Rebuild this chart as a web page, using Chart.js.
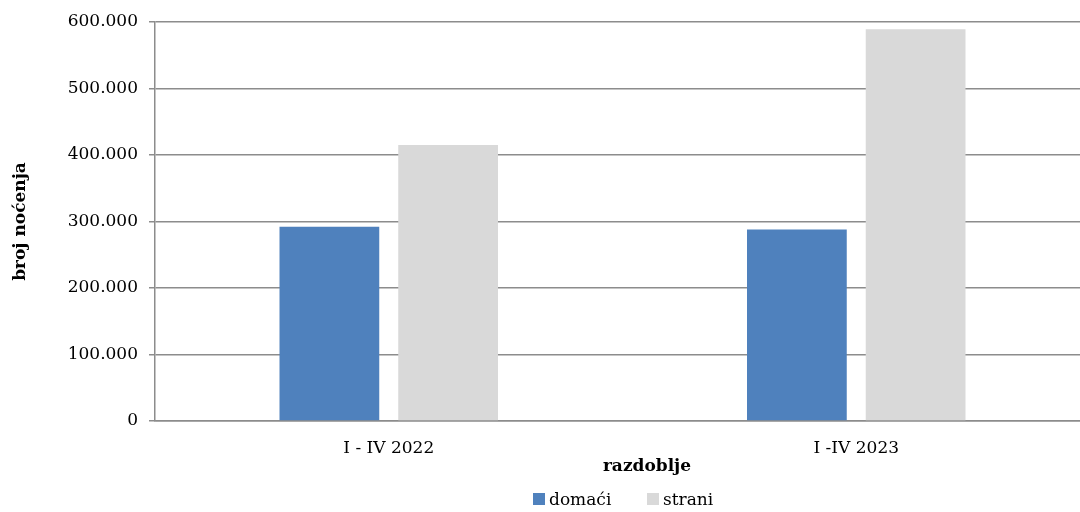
<!DOCTYPE html>
<html>
<head>
<meta charset="utf-8">
<script src="https://cdn.jsdelivr.net/npm/chart.js@4.4.0/dist/chart.umd.min.js"></script>
<style>
  html, body { margin: 0; padding: 0; background: #fff; overflow: hidden; }
  #wrap { position: relative; width: 1092px; height: 512px; }
  canvas { position: absolute; left: 0; top: 0; }
  .xt { position: absolute; font-family: "DejaVu Serif", serif; font-weight: bold; font-size: 17px; color: #000; white-space: nowrap; transform: translate(-50%, -50%); }
  .leg { position: absolute; font-family: "DejaVu Serif", serif; font-size: 17px; color: #000; white-space: nowrap; display: flex; align-items: center; }
  .leg span.box { display: inline-block; width: 12px; height: 12px; margin-right: 4px; }
</style>
</head>
<body>
<div id="wrap">
  <canvas id="c" width="1092" height="512" style="width:1092px;height:512px"></canvas>
  <div class="xt" style="left:647px; top:465px;">razdoblje</div>
  <div class="leg" style="left:533px; top:489px;"><span class="box" style="background:#4f81bd"></span>domaći</div>
  <div class="leg" style="left:647px; top:489px;"><span class="box" style="background:#d9d9d9"></span>strani</div>
</div>
<script>
const categories = ['I - IV 2022', 'I -IV 2023'];
const domaci = [292000, 288000];
const strani = [415000, 589000];
const yTicks = [0, 100000, 200000, 300000, 400000, 500000, 600000];

function fmt(v) {
  return String(v).replace(/\B(?=(\d{3})+(?!\d))/g, '.');
}

const gridColor = '#8c8c8c';

new Chart(document.getElementById('c'), {
  type: 'bar',
  data: {
    labels: categories,
    datasets: [
      { label: 'domaći', data: domaci, backgroundColor: '#4f81bd', borderWidth: 0 },
      { label: 'strani', data: strani, backgroundColor: '#d9d9d9', borderWidth: 0 }
    ]
  },
  options: {
    responsive: false,
    animation: false,
    devicePixelRatio: 1,
    layout: { padding: { left: 0, right: 2, top: 22, bottom: 0 } },
    plugins: { legend: { display: false }, tooltip: { enabled: false } },
    datasets: { bar: { categoryPercentage: 0.508, barPercentage: 0.84 } },
    scales: {
      x: {
        grid: { display: false, drawTicks: false },
        border: { display: true, color: gridColor, width: 1.5 },
        ticks: { padding: 17, color: '#000', font: { family: 'DejaVu Serif', size: 17 } },
        afterFit: (s) => { s.height = 91; }
      },
      y: {
        min: 0, max: 600000,
        afterBuildTicks: (s) => { s.ticks = yTicks.map(v => ({ value: v })); },
        grid: { color: gridColor, lineWidth: 1.5, drawTicks: true, tickLength: 6, tickColor: gridColor },
        border: { display: true, color: gridColor, width: 1.5 },
        ticks: { padding: 11, color: '#000', font: { family: 'DejaVu Serif', size: 17 }, callback: (v) => fmt(v) },
        title: { display: true, text: 'broj noćenja', color: '#000', font: { family: 'DejaVu Serif', size: 17, weight: 'bold' }, padding: { top: 10, bottom: 0 } },
        afterFit: (s) => { s.width = 155; }
      }
    }
  }
});
</script>
</body>
</html>
